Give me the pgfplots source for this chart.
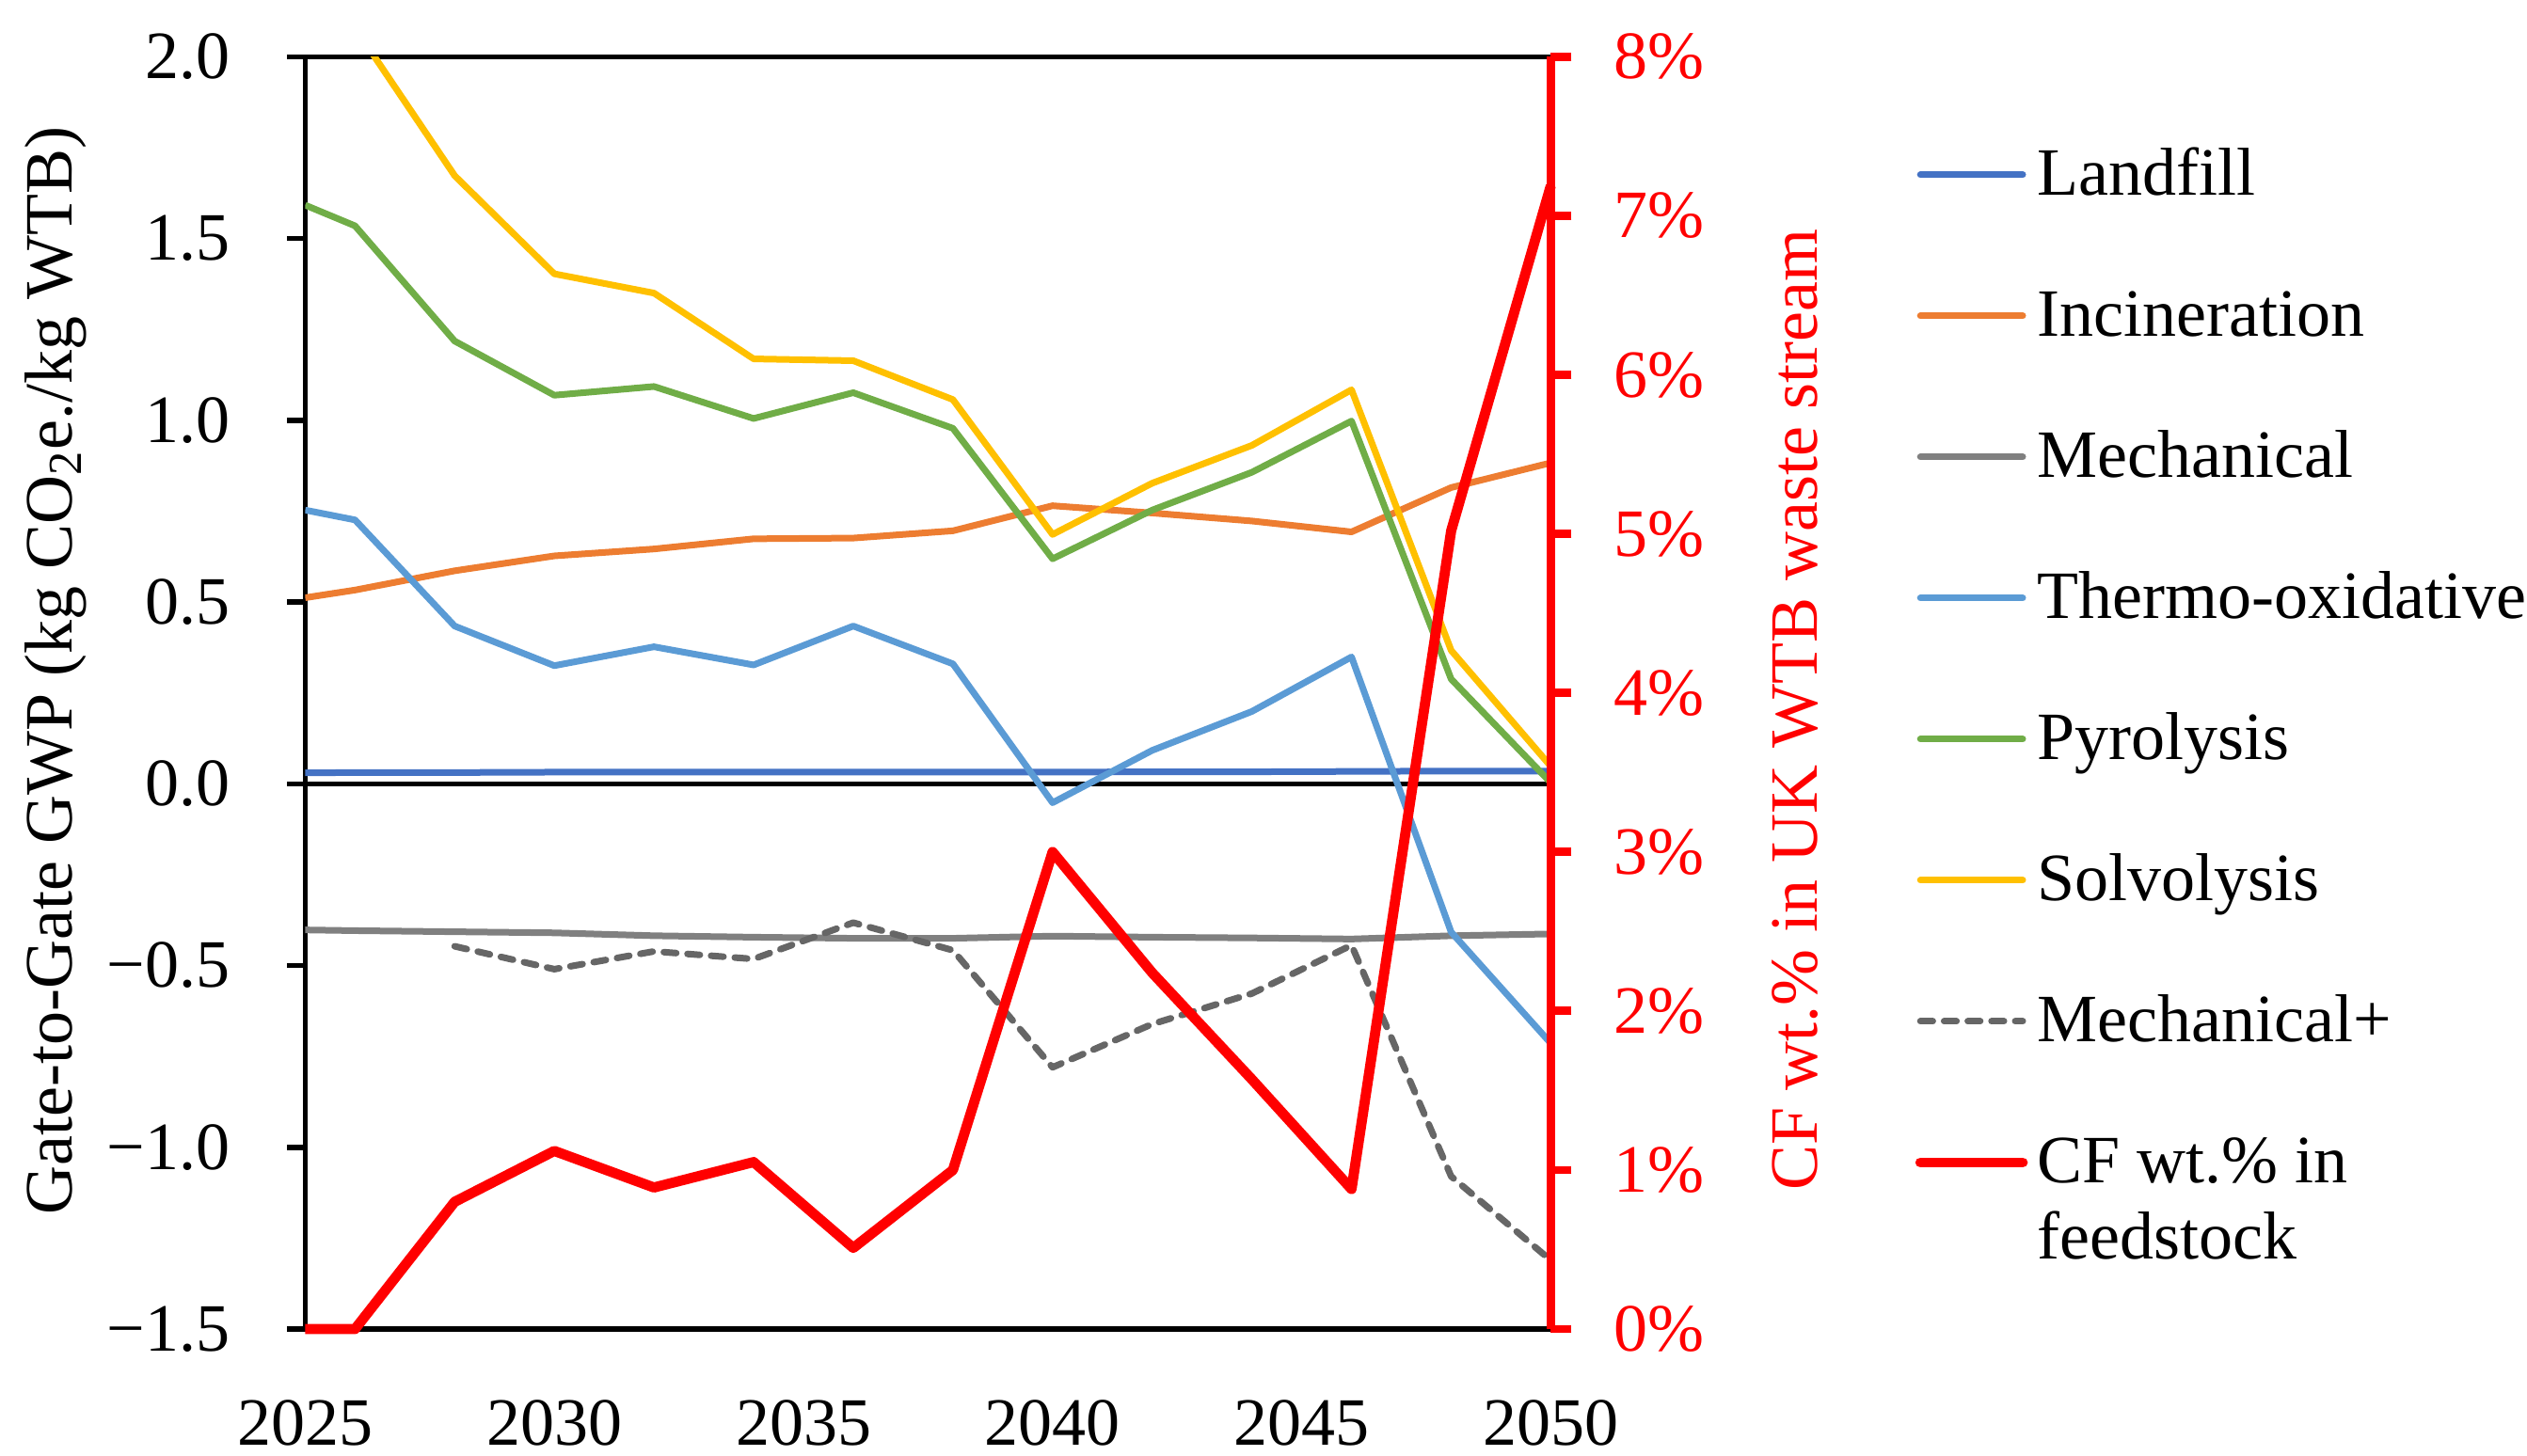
\documentclass[border=0pt]{standalone}
\usepackage{fontspec}
\setmainfont{Liberation Serif}
\usepackage{pgfplots}
\usepackage{pgfplotstable}
\pgfplotsset{compat=1.18}

\definecolor{landfill}{HTML}{4472C4}
\definecolor{incin}{HTML}{ED7D31}
\definecolor{mech}{HTML}{808080}
\definecolor{thermo}{HTML}{5B9BD5}
\definecolor{pyro}{HTML}{70AD47}
\definecolor{solvo}{HTML}{FFC000}
\definecolor{mechplus}{HTML}{666666}

% GWP per route (left axis)
\pgfplotstableread{
year landfill incin mech thermo pyro solvo mechplus
2025 0.030 0.512 -0.402 0.753 1.592 2.25 nan
2026 0.031 0.533 -0.404 0.726 1.535 2.08 nan
2028 0.031 0.586 -0.407 0.434 1.218 1.673 -0.447
2030 0.032 0.627 -0.410 0.325 1.069 1.403 -0.510
2032 0.032 0.646 -0.418 0.377 1.093 1.350 -0.461
2034 0.032 0.674 -0.422 0.327 1.005 1.169 -0.482
2036 0.032 0.676 -0.425 0.434 1.076 1.164 -0.382
2038 0.032 0.696 -0.425 0.330 0.978 1.057 -0.458
2040 0.032 0.765 -0.419 -0.052 0.619 0.686 -0.780
2042 0.033 0.745 -0.422 0.092 0.753 0.827 -0.661
2044 0.033 0.723 -0.424 0.199 0.857 0.931 -0.577
2046 0.034 0.693 -0.427 0.349 0.998 1.084 -0.444
2048 0.035 0.815 -0.418 -0.408 0.288 0.367 -1.080
2050 0.035 0.883 -0.413 -0.714 0.003 0.048 -1.311
}\gwp

% CF wt.% in feedstock (right axis)
\pgfplotstableread{
year cf
2025 0.00
2026 0.00
2028 0.80
2030 1.12
2032 0.89
2034 1.05
2036 0.51
2038 1.00
2040 3.00
2042 2.24
2044 1.57
2046 0.88
2048 5.02
2050 7.19
}\cf

\begin{document}
\fontsize{18}{20.25}\selectfont
\begin{tikzpicture}
\useasboundingbox (0,0) rectangle (671.5pt,386.75pt);
\begin{axis}[
  at={(81.1pt,33.5pt)}, anchor=south west,
  scale only axis, width=331pt, height=338.15pt,
  xmin=2025, xmax=2050, ymin=-1.5, ymax=2,
  xtick={2025,2030,...,2050},
  xticklabels={2025,2030,2035,2040,2045,2050},
  ytick={-1.5,-1,...,2},
  yticklabels={−1.5,−1.0,−0.5,0.0,0.5,1.0,1.5,2.0},
  ytick pos=left,
  tick align=outside,
  major tick length=4.8pt,
  xtick style={draw=none},
  ytick style={black, line width=1.4pt},
  axis line style={line width=1.4pt},
  xticklabel style={yshift=-8pt},
  yticklabel style={xshift=-9pt},
  ylabel={Gate-to-Gate GWP (kg CO\textsubscript{2}e./kg WTB)},
  ylabel style={at={(axis description cs:-0.2005,0.5175)}, anchor=center},
  legend cell align=left,
  legend image code/.code={\draw[#1, line cap=round] (0.9pt,0pt) -- (28.1pt,0pt);},
  legend style={draw=none, fill=none, at={(axis description cs:1.292,0.930)},
    anchor=north west, inner sep=0pt, column sep=2.5pt, row sep=22.5pt,
    nodes={inner sep=0pt, text height=13pt, text depth=2pt}},
  every axis plot/.append style={line width=1.75pt, line join=round},
]
\addplot[black, line width=1.4pt, forget plot] coordinates {(2025,0) (2050,0)};
\addplot[landfill] table[x=year,y=landfill]{\gwp};
\addlegendentry{Landfill}
\addplot[incin] table[x=year,y=incin]{\gwp};
\addlegendentry{Incineration}
\addplot[mech] table[x=year,y=mech]{\gwp};
\addlegendentry{Mechanical}
\addplot[thermo] table[x=year,y=thermo]{\gwp};
\addlegendentry{Thermo-oxidative}
\addplot[pyro] table[x=year,y=pyro]{\gwp};
\addlegendentry{Pyrolysis}
\addplot[solvo] table[x=year,y=solvo]{\gwp};
\addlegendentry{Solvolysis}
\addplot[mechplus, dash pattern=on 3.3pt off 3pt, line cap=round] table[x=year,y=mechplus]{\gwp};
\addlegendentry{Mechanical+}
\addlegendimage{red, line width=2.7pt}
\addlegendentry{\begin{tabular}[t]{@{}l@{}}CF wt.\% in\\feedstock\end{tabular}}
\end{axis}

\begin{axis}[
  at={(81.1pt,33.5pt)}, anchor=south west,
  scale only axis, width=331pt, height=338.15pt,
  xmin=2025, xmax=2050, ymin=0, ymax=8,
  axis x line=none, axis y line*=right,
  ytick={0,1,...,8},
  yticklabels={0\%,1\%,2\%,3\%,4\%,5\%,6\%,7\%,8\%},
  tick align=outside,
  major tick length=5.5pt,
  y axis line style={red, line width=2.2pt},
  ytick style={red, line width=2.2pt},
  yticklabel style={red, xshift=5pt},
  ylabel={CF wt.\% in UK WTB waste stream},
  ylabel style={red, at={(axis description cs:1.196,0.487)}, anchor=center},
  clip=false,
]
\addplot[red, line width=2.7pt, line join=round] table[x=year,y=cf]{\cf};
\end{axis}
\end{tikzpicture}
\end{document}
